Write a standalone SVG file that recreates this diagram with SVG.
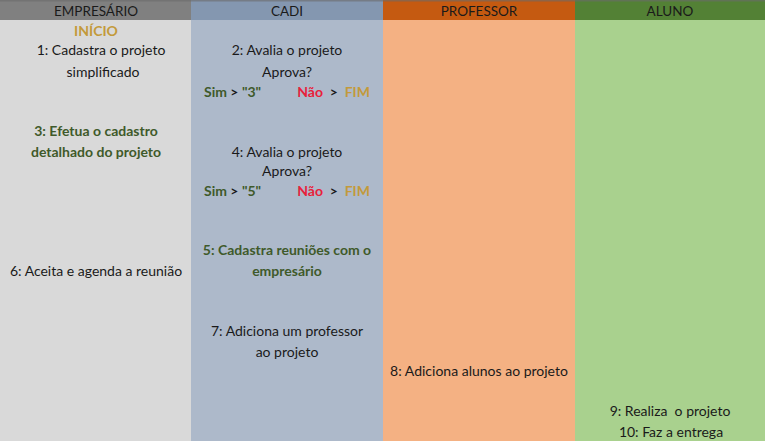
<svg xmlns="http://www.w3.org/2000/svg" width="765" height="441" viewBox="0 0 765 441">
<style>
text{font-family:Lato,"Open Sans","Liberation Sans",sans-serif;font-size:14px;fill:#1a1a1a;text-anchor:middle;white-space:pre}
.b{font-weight:bold}
.g{fill:#3f5a2a;font-weight:bold}
.r{fill:#e8203a;font-weight:bold}
.y{fill:#c39a3a;font-weight:bold}
.k{fill:#1a1a1a;font-weight:bold}
.h{font-size:13.5px}
</style>
<g id="lane-empresario">
<rect x="0" y="0" width="191" height="441" fill="#d9d9d9"/>
<rect x="0" y="0" width="191" height="20" fill="#808080"/>
<text class="h" x="96" y="16">EMPRESÁRIO</text>
</g>
<g id="lane-cadi">
<rect x="191" y="0" width="192" height="441" fill="#adb9ca"/>
<rect x="191" y="0" width="192" height="20" fill="#8497b0"/>
<text class="h" x="287" y="16">CADI</text>
</g>
<g id="lane-professor">
<rect x="383" y="0" width="192" height="441" fill="#f4b183"/>
<rect x="383" y="0" width="192" height="20" fill="#c55a11"/>
<text class="h" x="479" y="16">PROFESSOR</text>
</g>
<g id="lane-aluno">
<rect x="575" y="0" width="190" height="441" fill="#a9d18e"/>
<rect x="575" y="0" width="190" height="20" fill="#538135"/>
<text class="h" x="670" y="16">ALUNO</text>
</g>
<rect x="0" y="0" width="765" height="1.5" fill="#6b6b6b" opacity="0.6"/>
<g id="connectors"></g>
<g id="inicio"><text class="y" x="96" y="36">INÍCIO</text></g>
<g id="step1"><text x="101" y="55">1: Cadastra o projeto</text><text x="103" y="77">simplificado</text></g>
<g id="step2"><text x="287" y="55">2: Avalia o projeto</text><text x="287" y="77">Aprova?</text>
<text x="204" y="97" style="text-anchor:start"><tspan class="g">Sim</tspan><tspan class="k"> &gt; </tspan><tspan class="g">"3"</tspan></text>
<text x="370" y="97" style="text-anchor:end"><tspan class="r">Não</tspan><tspan class="k">  &gt;  </tspan><tspan class="y">FIM</tspan></text></g>
<g id="step3"><text class="g" x="96" y="136">3: Efetua o cadastro</text><text class="g" x="96" y="157">detalhado do projeto</text></g>
<g id="step4"><text x="287" y="157">4: Avalia o projeto</text><text x="287" y="176">Aprova?</text>
<text x="204" y="196" style="text-anchor:start"><tspan class="g">Sim</tspan><tspan class="k"> &gt; </tspan><tspan class="g">"5"</tspan></text>
<text x="370" y="196" style="text-anchor:end"><tspan class="r">Não</tspan><tspan class="k">  &gt;  </tspan><tspan class="y">FIM</tspan></text></g>
<g id="step5"><text class="g" x="287" y="255">5: Cadastra reuniões com o</text><text class="g" x="287" y="276">empresário</text></g>
<g id="step6"><text x="96" y="276">6: Aceita e agenda a reunião</text></g>
<g id="step7"><text x="287" y="336">7: Adiciona um professor</text><text x="287" y="357">ao projeto</text></g>
<g id="step8"><text x="479" y="376">8: Adiciona alunos ao projeto</text></g>
<g id="step9"><text x="670" y="416">9: Realiza  o projeto</text><text x="671" y="437">10: Faz a entrega</text></g>
</svg>
